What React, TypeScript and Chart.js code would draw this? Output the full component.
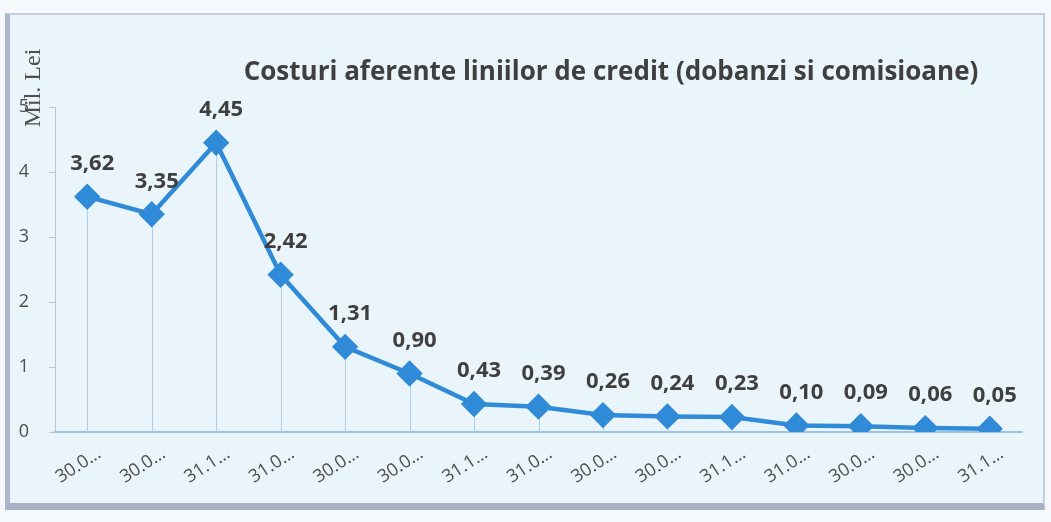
import React, { useEffect, useRef } from "react";
import { Chart, registerables } from "chart.js";

Chart.register(...registerables);

const categories = [
  "30.0…", "30.0…", "31.1…", "31.0…", "30.0…", "30.0…", "31.1…", "31.0…",
  "30.0…", "30.0…", "31.1…", "31.0…", "30.0…", "30.0…", "31.1…",
];
const costs = [3.62, 3.35, 4.45, 2.42, 1.31, 0.9, 0.43, 0.39, 0.26, 0.24, 0.23, 0.1, 0.09, 0.06, 0.05];
const yMin = 0;
const yMax = 5;
const yStep = 1;
const titleText = "Costuri aferente liniilor de credit (dobanzi si comisioane)";
const yAxisTitle = "Mil. Lei";

const LINE_COLOR = "#2f8bd8";
const TEXT_DARK = "#3f3f3f";
const TEXT_GRAY = "#4e4e4e";

const dropLinesPlugin = {
  id: "dropLines",
  beforeDatasetsDraw(chart: any) {
    const meta = chart.getDatasetMeta(0);
    const yScale = chart.scales.y;
    const base = yScale.getPixelForValue(0);
    const ctx = chart.ctx;
    ctx.save();
    ctx.strokeStyle = "#a9cfec";
    ctx.lineWidth = 1;
    meta.data.forEach((pt: any) => {
      ctx.beginPath();
      ctx.moveTo(Math.round(pt.x) + 0.5, pt.y);
      ctx.lineTo(Math.round(pt.x) + 0.5, base);
      ctx.stroke();
    });
    ctx.restore();
  },
};

const valueLabelsPlugin = {
  id: "valueLabels",
  afterDatasetsDraw(chart: any) {
    const meta = chart.getDatasetMeta(0);
    const ctx = chart.ctx;
    ctx.save();
    ctx.fillStyle = TEXT_DARK;
    ctx.font = "bold 22px 'Open Sans', sans-serif";
    ctx.textAlign = "center";
    ctx.textBaseline = "bottom";
    meta.data.forEach((pt: any, i: number) => {
      const v = costs[i];
      ctx.fillText(v.toFixed(2).replace(".", ","), pt.x + 5, pt.y - 22);
    });
    ctx.restore();
  },
};

const textsPlugin = {
  id: "texts",
  afterDraw(chart: any) {
    const ctx = chart.ctx;
    ctx.save();
    ctx.fillStyle = TEXT_DARK;
    ctx.font = "bold 26px 'Open Sans', sans-serif";
    ctx.textAlign = "center";
    ctx.textBaseline = "middle";
    ctx.fillText(titleText, 611, 73);
    ctx.translate(34, 88);
    ctx.rotate(-Math.PI / 2);
    ctx.font = "24px 'Liberation Serif', serif";
    ctx.fillStyle = TEXT_GRAY;
    ctx.fillText(yAxisTitle, 0, 0);
    ctx.restore();
  },
};

export default function App() {
  const canvasRef = useRef<HTMLCanvasElement | null>(null);

  useEffect(() => {
    if (!canvasRef.current) return;
    const chart = new Chart(canvasRef.current, {
      type: "line",
      data: {
        labels: categories,
        datasets: [
          {
            data: costs,
            borderColor: LINE_COLOR,
            backgroundColor: LINE_COLOR,
            borderWidth: 4.5,
            pointStyle: "rectRot",
            pointRadius: 10,
            pointBackgroundColor: LINE_COLOR,
            pointBorderColor: LINE_COLOR,
            tension: 0,
          },
        ],
      },
      options: {
        animation: false,
        responsive: false,
        maintainAspectRatio: false,
        layout: { padding: { top: 107, right: 29, bottom: 0, left: 0 } },
        plugins: {
          legend: { display: false },
          tooltip: { enabled: false },
          title: { display: false },
        },
        scales: {
          x: {
            type: "category",
            offset: true,
            grid: { display: false },
            border: { display: true, color: "#9cc2e6", width: 2 },
            ticks: {
              color: TEXT_GRAY,
              font: { size: 18, family: "'Open Sans', sans-serif" },
              minRotation: 33,
              maxRotation: 33,
              autoSkip: false,
              labelOffset: 12,
              padding: 3,
            },
            afterFit(scale: any) {
              scale.height = 90;
            },
          },
          y: {
            min: yMin,
            max: yMax,
            grid: {
              display: true,
              drawOnChartArea: false,
              drawTicks: true,
              tickLength: 6,
              color: "#b9c8d8",
            },
            border: { display: true, color: "#b9c8d8", width: 1 },
            ticks: {
              stepSize: yStep,
              color: TEXT_GRAY,
              font: { size: 18, family: "'Open Sans', sans-serif" },
              padding: 20,
            },
            afterFit(scale: any) {
              scale.width = 55;
            },
          },
        },
      },
      plugins: [dropLinesPlugin, valueLabelsPlugin, textsPlugin],
    });
    return () => chart.destroy();
  }, []);

  return (
    <div
      style={{
        position: "absolute",
        left: 0,
        top: 0,
        width: 1051,
        height: 522,
        background: "#f6f9fc",
        overflow: "hidden",
      }}
    >
      <div
        style={{
          position: "absolute",
          left: 5,
          top: 13,
          width: 1033,
          height: 488,
          background: "#eaf4fb",
          borderTop: "2px solid #c4cedc",
          borderLeft: "5px solid #aeb6c9",
          borderBottom: "7px solid #a9b1c4",
          borderRight: "2px solid #c4cedc",
        }}
      />
      <canvas
        ref={canvasRef}
        width={1051}
        height={522}
        style={{ position: "absolute", left: 0, top: 0, display: "block" }}
      />
    </div>
  );
}
